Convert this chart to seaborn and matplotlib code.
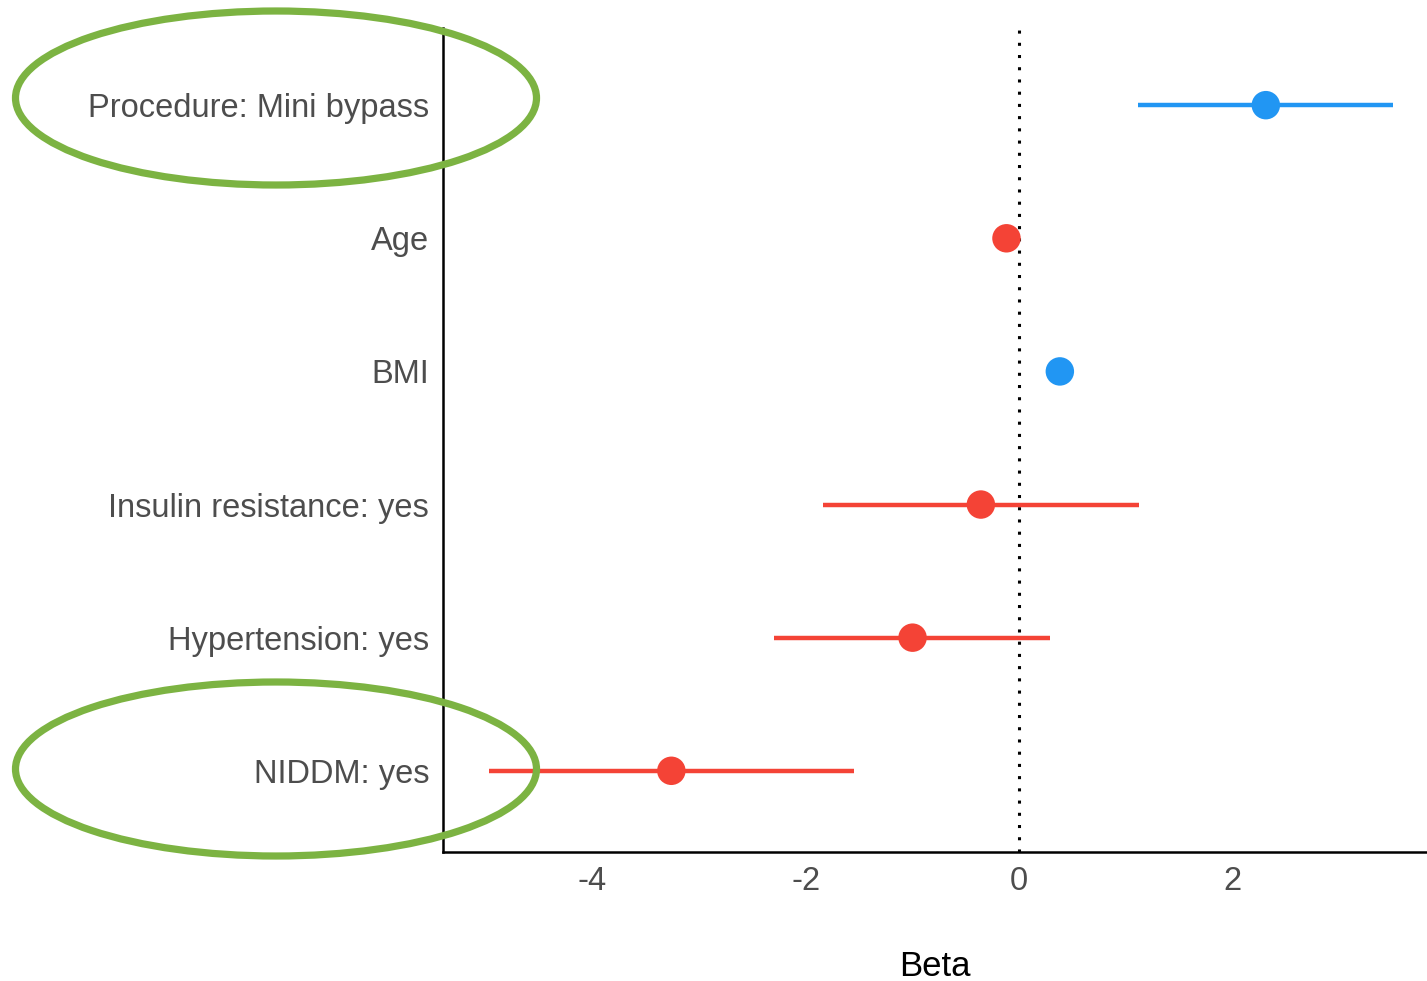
import matplotlib
matplotlib.use("Agg")
import matplotlib.pyplot as plt
from matplotlib.patches import Ellipse
import seaborn as sns
import pandas as pd

# Regression estimates (beta) with 95% confidence limits
terms = ["Procedure: Mini bypass", "Age", "BMI", "Insulin resistance: yes",
         "Hypertension: yes", "NIDDM: yes"]
beta = [2.31, -0.12, 0.38, -0.36, -1.00, -3.26]
lower = [1.11, -0.17, 0.33, -1.84, -2.30, -4.97]
upper = [3.50, -0.07, 0.43, 1.12, 0.29, -1.55]
x_ticks = [-4, -2, 0, 2]

df = pd.DataFrame({"term": terms, "beta": beta, "lower": lower, "upper": upper})
df["direction"] = ["positive" if b > 0 else "negative" for b in df["beta"]]
palette = {"positive": "#2196F3", "negative": "#F44336"}

sns.set_theme(style="white")
plt.rcParams["font.family"] = ["Liberation Sans", "DejaVu Sans"]

fig = plt.figure(figsize=(14.27, 9.81), dpi=100)
ax = fig.add_axes([0.3104, 0.1315, 0.6896, 0.84])

ypos = list(range(len(terms)))
df["y"] = ypos

# confidence intervals
for _, r in df.iterrows():
    ax.hlines(r["y"], r["lower"], r["upper"], color=palette[r["direction"]],
              lw=3.2, zorder=2)

sns.scatterplot(data=df, x="beta", y="y", hue="direction", palette=palette,
                s=420, edgecolor="none", legend=False, ax=ax, zorder=3)

# reference line at zero
ax.axvline(0, color="black", lw=2.2, linestyle=(0, (1, 3)), zorder=1)

ax.set_xlim(-5.40, 3.82)
ax.set_ylim(5.61, -0.58)
ax.set_yticks(ypos)
ax.set_yticklabels(terms)
ax.set_xticks(x_ticks)
ax.set_xticklabels([str(t) for t in x_ticks])
ax.tick_params(axis="both", length=0, labelsize=23.5, labelcolor="#4D4D4D")
ax.tick_params(axis="y", pad=10)
ax.tick_params(axis="x", pad=10)
ax.set_ylabel("")
ax.set_xlabel("Beta", fontsize=25, color="black", labelpad=38)

for side in ["top", "right"]:
    ax.spines[side].set_visible(False)
for side in ["left", "bottom"]:
    ax.spines[side].set_color("black")
    ax.spines[side].set_linewidth(1.8)

# highlight ellipses around key terms
W, H = 1427, 981
for cy in (98, 769):
    e = Ellipse((276 / W, 1 - cy / H), 521 / W, 174 / H,
                transform=fig.transFigure, fill=False,
                edgecolor="#7CB342", lw=5.2, zorder=10)
    fig.add_artist(e)

fig.savefig("out.png", dpi=100)
